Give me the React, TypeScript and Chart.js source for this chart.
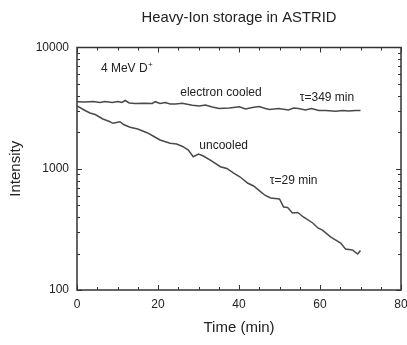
import React, { useEffect, useRef } from "react";
import { Chart, registerables } from "chart.js";

Chart.register(...registerables);

// ---- Data ----
const TITLE = "Heavy-Ion storage in ASTRID";
const X_TITLE = "Time (min)";
const Y_TITLE = "Intensity";

const X_MIN = 0;
const X_MAX = 80;
const X_LABEL_STEP = 20;
const X_MINOR_TICKS = [0, 5, 10, 15, 20, 25, 30, 35, 40, 45, 50, 55, 60, 65, 70, 75, 80];

const Y_MIN = 100;
const Y_MAX = 10000;
const Y_LABEL_TICKS = [100, 1000, 10000];
const Y_DECADES = [100, 1000];
const Y_MULTIPLIERS = [1, 2, 3, 4, 5, 6, 7, 8, 9];

// electron cooled
const COOLED_T = [0, 2, 4, 5.7, 6.9, 8.7, 10.1, 11.1, 11.9, 12.9, 14.4, 16.8, 18.6, 19.3, 20.5, 21.8, 23, 24.3, 26, 27.5,
  28.5, 30.2, 31.7, 33.4, 35.1, 37.6, 40.1, 41.6, 43.3, 45, 46.5, 47.5, 49.8, 52.2, 53.5, 54.7, 56.4, 57.9, 59.7, 61.4,
  63.9, 65.6, 67.1, 68.8, 70];
const COOLED_V = [3573, 3552, 3586, 3519, 3586, 3519, 3586, 3519, 3655, 3486, 3453, 3467, 3453, 3573, 3453, 3519, 3420, 3420, 3467, 3388,
  3337, 3292, 3357, 3230, 3140, 3170, 3249, 3110, 3200, 3261, 3140, 3081, 3140, 3052, 3170, 3140, 3052, 3140, 3023, 3023,
  2978, 3023, 2995, 3023, 3023];

// uncooled
const UNCOOLED_T = [0, 2, 3.2, 4.5, 6.4, 8.0, 8.9, 10.6, 11.5, 13.1, 15, 17.3, 19, 20.5, 23, 24.6, 26.2, 27.5, 28.7, 30,
  31.2, 33.3, 35.4, 37, 38.6, 40.3, 42.1, 43.6, 45.3, 46.5, 47.8, 50, 51, 52, 53.2, 54.5, 55.9, 58.2, 59.5, 60.6,
  62.6, 65.1, 66.3, 68, 69.3, 70];
const UNCOOLED_V = [3292, 3023, 2883, 2802, 2572, 2453, 2370, 2443, 2317, 2198, 2127, 1983, 1845, 1727, 1622, 1600, 1520, 1428, 1257, 1323,
  1274, 1158, 1040, 1005, 923, 855, 763, 721, 647, 602, 574, 563, 484, 479, 432, 436, 400, 357, 325, 312,
  274, 244, 218, 214, 198, 212];

// annotations (data coordinates)
const ANNOTATIONS = [
  { text: "4 MeV D", sup: "+", x: 5.9, y: 6650 },
  { text: "electron cooled", sup: "", x: 25.5, y: 4217 },
  { text: "\u03c4=349 min", sup: "", x: 55.0, y: 3880 },
  { text: "uncooled", sup: "", x: 30.2, y: 1542 },
  { text: "\u03c4=29 min", sup: "", x: 47.6, y: 790 },
];

const FONT = "'Liberation Sans', Arial, Helvetica, sans-serif";
const TEXT_COLOR = "#222";
const LINE_COLOR = "#4a4a4a";
const FRAME_COLOR = "#333";

const framePlugin = {
  id: "framePlugin",
  afterDatasetsDraw(chart: any) {
    const { ctx, chartArea, scales } = chart;
    const { left, right, top, bottom } = chartArea;
    const x = scales.x;
    const y = scales.y;
    ctx.save();
    ctx.strokeStyle = FRAME_COLOR;
    ctx.lineWidth = 1.5;
    ctx.strokeRect(left, top, right - left, bottom - top);
    ctx.lineWidth = 1;
    ctx.beginPath();
    X_MINOR_TICKS.forEach((v) => {
      const px = Math.round(x.getPixelForValue(v)) + 0.5;
      const len = v % X_LABEL_STEP === 0 ? 5 : 3;
      ctx.moveTo(px, bottom);
      ctx.lineTo(px, bottom - len);
      ctx.moveTo(px, top);
      ctx.lineTo(px, top + len);
    });
    Y_DECADES.forEach((d) => {
      Y_MULTIPLIERS.forEach((m) => {
        const v = d * m;
        const py = Math.round(y.getPixelForValue(v)) + 0.5;
        const len = m === 1 ? 5 : 3;
        ctx.moveTo(left, py);
        ctx.lineTo(left + len, py);
        ctx.moveTo(right, py);
        ctx.lineTo(right - len, py);
      });
    });
    ctx.stroke();

    ctx.fillStyle = TEXT_COLOR;
    ctx.textBaseline = "middle";
    ctx.textAlign = "center";
    ctx.font = `14.8px ${FONT}`;
    ctx.fillText(TITLE, (left + right) / 2, 18);

    ctx.textAlign = "left";
    ANNOTATIONS.forEach((a) => {
      const px = x.getPixelForValue(a.x);
      const py = y.getPixelForValue(a.y);
      ctx.font = `12px ${FONT}`;
      ctx.fillText(a.text, px, py);
      if (a.sup) {
        const w = ctx.measureText(a.text).width;
        ctx.font = `8px ${FONT}`;
        ctx.fillText(a.sup, px + w + 0.5, py - 4);
      }
    });
    ctx.restore();
  },
};

export default function App() {
  const ref = useRef<HTMLCanvasElement | null>(null);

  useEffect(() => {
    if (!ref.current) return;
    Chart.defaults.font.family = FONT;
    Chart.defaults.color = TEXT_COLOR;
    const chart = new Chart(ref.current, {
      type: "line",
      data: {
        datasets: [
          {
            label: "electron cooled",
            data: COOLED_T.map((t, i) => ({ x: t, y: COOLED_V[i] })),
            borderColor: LINE_COLOR,
            borderWidth: 1.5,
            pointRadius: 0,
            tension: 0,
            fill: false,
          },
          {
            label: "uncooled",
            data: UNCOOLED_T.map((t, i) => ({ x: t, y: UNCOOLED_V[i] })),
            borderColor: LINE_COLOR,
            borderWidth: 1.5,
            pointRadius: 0,
            tension: 0,
            fill: false,
          },
        ],
      },
      options: {
        responsive: false,
        animation: false,
        devicePixelRatio: 1,
        layout: { padding: { left: 0, right: 6, top: 47.5, bottom: 0 } },
        plugins: {
          legend: { display: false },
          tooltip: { enabled: false },
          title: { display: false },
        },
        scales: {
          x: {
            type: "linear",
            min: X_MIN,
            max: X_MAX,
            grid: { display: false, drawTicks: false },
            border: { display: false },
            ticks: {
              stepSize: X_LABEL_STEP,
              color: TEXT_COLOR,
              font: { family: FONT, size: 12 },
              padding: 7,
              maxRotation: 0,
            },
            title: {
              display: true,
              text: X_TITLE,
              color: TEXT_COLOR,
              font: { family: FONT, size: 15 },
              padding: { top: 0, bottom: 8 },
            },
            afterFit: (scale: any) => {
              scale.height = 55;
              scale.paddingRight = 0;
              scale.paddingLeft = 0;
            },
          },
          y: {
            type: "logarithmic",
            min: Y_MIN,
            max: Y_MAX,
            grid: { display: false, drawTicks: false },
            border: { display: false },
            afterBuildTicks: (scale: any) => {
              scale.ticks = Y_LABEL_TICKS.map((v) => ({ value: v }));
            },
            ticks: {
              color: TEXT_COLOR,
              font: { family: FONT, size: 12 },
              padding: 8,
              callback: (v: any) => String(v),
            },
            title: {
              display: true,
              text: Y_TITLE,
              color: TEXT_COLOR,
              font: { family: FONT, size: 15 },
              padding: { top: 7, bottom: 0 },
            },
            afterFit: (scale: any) => {
              scale.width = 77;
              scale.paddingTop = 0;
              scale.paddingBottom = 0;
            },
          },
        },
      },
      plugins: [framePlugin],
    } as any);
    return () => chart.destroy();
  }, []);

  return (
    <div style={{ position: "absolute", left: 0, top: 0, width: 407, height: 345, background: "#fff" }}>
      <canvas ref={ref} width={407} height={345} style={{ display: "block" }} />
    </div>
  );
}
